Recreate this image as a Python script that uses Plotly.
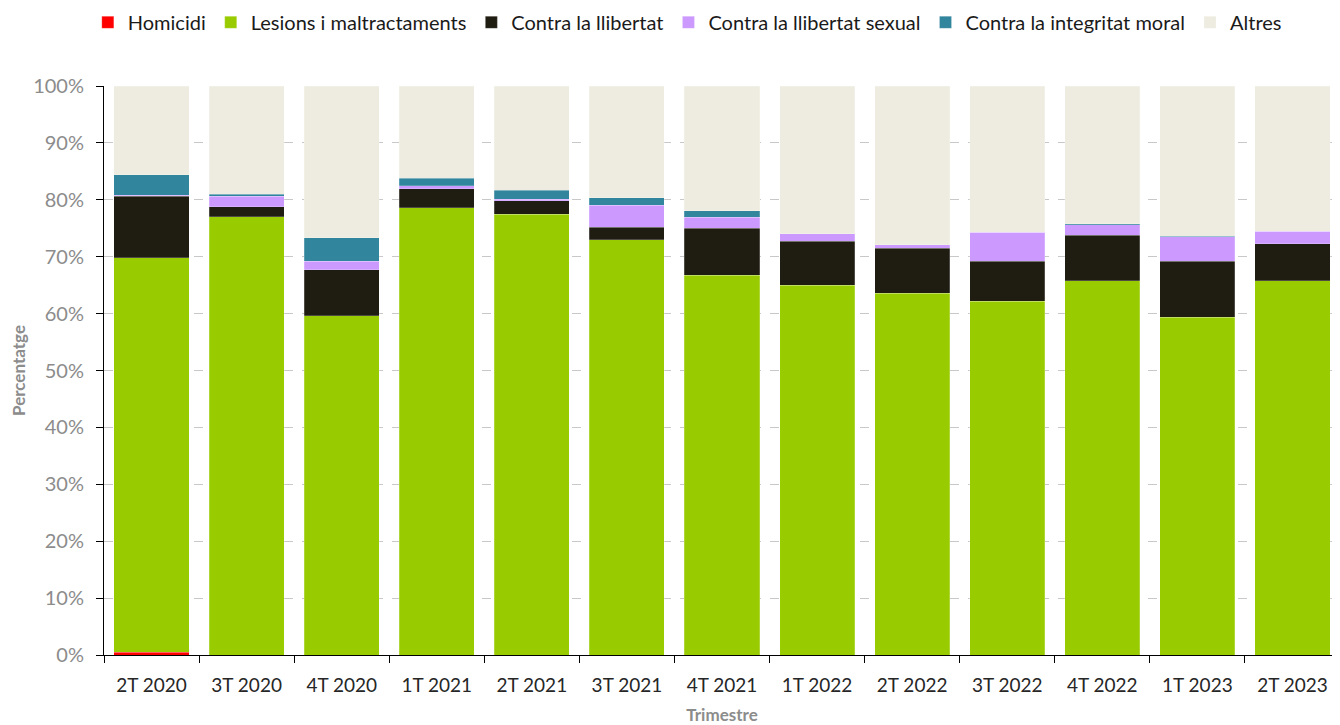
import plotly.graph_objects as go

trimestres = ['2T 2020', '3T 2020', '4T 2020', '1T 2021', '2T 2021', '3T 2021', '4T 2021',
              '1T 2022', '2T 2022', '3T 2022', '4T 2022', '1T 2023', '2T 2023']

homicidi = [0.5, 0, 0, 0, 0, 0, 0, 0, 0, 0, 0, 0, 0]
lesions = [69.3, 77.0, 59.6, 78.6, 77.5, 73.0, 66.7, 65.0, 63.6, 62.2, 65.8, 59.4, 65.8]
llibertat = [10.8, 1.8, 8.1, 3.3, 2.3, 2.2, 8.3, 7.7, 7.9, 7.0, 8.0, 9.8, 6.5]
llibertat_sexual = [0.2, 1.8, 1.5, 0.6, 0.3, 3.8, 1.9, 1.3, 0.6, 5.1, 1.8, 4.3, 2.2]
integritat_moral = [3.6, 0.4, 4.1, 1.3, 1.6, 1.4, 1.2, 0, 0, 0, 0.2, 0.1, 0]
altres = [15.6, 19.0, 26.7, 16.2, 18.3, 19.6, 21.9, 26.0, 27.9, 25.7, 24.2, 26.4, 25.5]

series = [
    ('Homicidi', homicidi, '#ff0000'),
    ('Lesions i maltractaments', lesions, '#99cc00'),
    ('Contra la llibertat', llibertat, '#1f1c12'),
    ('Contra la llibertat sexual', llibertat_sexual, '#cc99ff'),
    ('Contra la integritat moral', integritat_moral, '#31859c'),
    ('Altres', altres, '#eeece1'),
]

fig = go.Figure()
for name, vals, color in series:
    fig.add_trace(go.Bar(
        x=trimestres,
        y=vals,
        name=name,
        marker=dict(color=color, line=dict(color='rgba(255,255,255,0.35)', width=0.6)),
    ))

# page body has an 8px margin, so the figure is sized to fit the window
fig.update_layout(
    barmode='stack',
    bargap=0.21,
    width=1332,
    height=717,
    paper_bgcolor='white',
    plot_bgcolor='white',
    font=dict(family='Lato', size=19, color='#262626'),
    margin=dict(l=96, r=0, t=78, b=70, autoexpand=False),
    legend=dict(
        orientation='h',
        x=0.51, xanchor='center', xref='container',
        y=0.98, yanchor='middle', yref='container',
        font=dict(size=20, color='#1a1a1a'),
        traceorder='normal',
        itemwidth=30,
    ),
    xaxis=dict(
        automargin=False,
        title=dict(text='Trimestre', font=dict(size=17, color='#8c8c8c', weight='bold'), standoff=16),
        showline=True,
        linecolor='#000000',
        linewidth=1,
        ticks='outside',
        tickson='boundaries',
        ticklen=7,
        tickcolor='#000000',
        tickfont=dict(size=19, color='#262626'),
        ticklabelstandoff=13,
    ),
    yaxis=dict(
        automargin=False,
        title=dict(text='Percentatge', font=dict(size=17, color='#8c8c8c', weight='bold'), standoff=14),
        range=[0, 100],
        dtick=10,
        ticksuffix='%',
        showline=True,
        linecolor='#000000',
        linewidth=1,
        ticks='outside',
        ticklen=7,
        tickcolor='#000000',
        tickfont=dict(size=20, color='#8c8c8c'),
        ticklabelstandoff=8,
        showgrid=True,
        gridcolor='#c8c8c8',
        griddash='dash',
        gridwidth=1,
        zeroline=False,
    ),
)

fig.write_html('out.html')
